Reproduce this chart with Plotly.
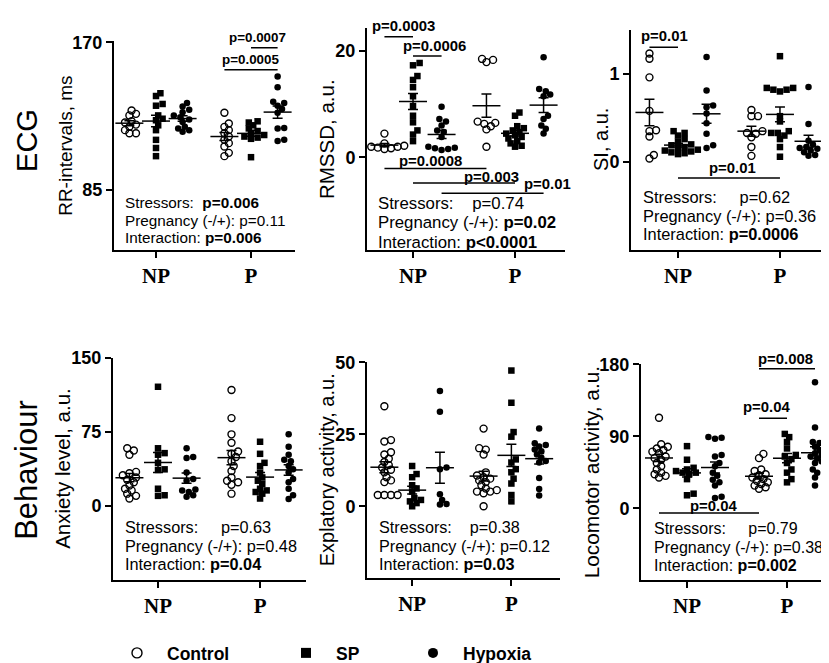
import numpy as np
import plotly.graph_objects as go

# ── data (order: NP Control, NP SP, NP Hypoxia, P Control, P SP, P Hypoxia) ──
STATES = ["NP", "P"]
GROUPS = ["Control", "SP", "Hypoxia"]

rr_np_ctrl = [130.6, 128.7, 127.8, 124.4, 123.7, 122.5, 121.2, 119.3, 117.5, 117.5]
rr_np_sp = [140.6, 139.0, 134.4, 133.4, 127.8, 125.9, 125.0, 122.1, 119.3, 113.7, 109.0, 104.3]
rr_np_hyp = [134.9, 133.0, 131.1, 129.6, 127.8, 126.8, 125.5, 124.0, 121.2, 120.3, 119.3, 118.4]
rr_p_ctrl = [129.3, 123.1, 121.2, 119.3, 117.5, 115.6, 113.7, 111.8, 109.9, 106.2, 104.3]
rr_p_sp = [124.4, 123.7, 122.1, 120.3, 118.8, 117.5, 116.5, 115.6, 115.0, 114.3, 103.7]
rr_p_hyp = [150.3, 144.1, 135.7, 134.9, 133.4, 131.5, 129.3, 120.6, 120.3, 113.7, 113.1]

rmssd_np_ctrl = [4.46, 2.63, 2.32, 2.19, 2.01, 2.01, 1.83, 1.72, 1.59]
rmssd_np_sp = [17.7, 17.26, 15.25, 14.52, 13.16, 11.46, 9.63, 7.81, 6.58, 5.06, 4.28, 3.05]
rmssd_np_hyp = [9.51, 7.2, 6.71, 5.98, 5.06, 4.75, 3.84, 2.01, 1.83, 1.72, 1.59, 1.41]
rmssd_p_ctrl = [18.46, 18.28, 17.86, 6.71, 6.47, 6.29, 5.85, 5.25, 2.01]
rmssd_p_sp = [8.41, 7.81, 5.85, 5.48, 5.06, 4.75, 4.46, 4.15, 3.84, 3.55, 3.05, 2.63, 2.19, 2.01]
rmssd_p_hyp = [18.78, 12.8, 12.38, 11.77, 11.46, 7.81, 7.2, 5.98, 5.37, 4.46]

si_np_ctrl = [1.23, 1.17, 0.96, 0.58, 0.36, 0.35, 0.29, 0.08, 0.04]
si_np_sp = [0.35, 0.33, 0.30, 0.26, 0.23, 0.20, 0.19, 0.17, 0.16, 0.14, 0.13, 0.12, 0.11, 0.10, 0.09]
si_np_hyp = [1.19, 0.81, 0.64, 0.62, 0.55, 0.44, 0.32, 0.19, 0.16]
si_p_ctrl = [0.59, 0.52, 0.52, 0.35, 0.33, 0.32, 0.28, 0.17, 0.07]
si_p_sp = [1.20, 0.84, 0.84, 0.82, 0.82, 0.80, 0.52, 0.46, 0.35, 0.33, 0.33, 0.30, 0.26, 0.17, 0.06]
si_p_hyp = [0.85, 0.43, 0.24, 0.20, 0.17, 0.16, 0.15, 0.13, 0.11, 0.08, 0.07]

anx_np_ctrl = [58.3, 56.0, 51.8, 34.4, 33.1, 31.1, 28.8, 26.5, 23.9, 20.6, 17.4, 15.7, 12.4, 10.2, 7.5]
anx_np_sp = [120.5, 58.3, 53.4, 51.8, 43.6, 37.0, 36.4, 17.4, 10.8, 10.2]
anx_np_hyp = [58.3, 49.5, 48.5, 33.7, 27.2, 25.5, 16.7, 15.7, 14.1, 10.8, 9.2]
anx_p_ctrl = [117.3, 88.8, 72.4, 63.9, 55.0, 52.7, 49.5, 45.2, 40.3, 35.4, 28.8, 25.5, 23.9, 21.3, 12.4]
anx_p_sp = [64.9, 52.7, 43.6, 40.3, 33.7, 28.8, 25.5, 22.3, 17.4, 15.7, 14.1, 12.4, 7.5]
anx_p_hyp = [72.4, 59.9, 51.8, 46.8, 45.2, 40.3, 37.0, 33.7, 27.2, 23.9, 17.4, 10.8, 6.9]

exp_np_ctrl = [34.8, 23.0, 22.5, 18.8, 18.0, 16.5, 15.4, 14.3, 13.5, 12.7, 11.8, 10.1, 9.0, 8.4, 3.9, 3.9, 3.9, 3.9]
exp_np_sp = [14.0, 11.2, 10.1, 7.3, 6.2, 5.1, 2.8, 2.2, 1.7, 1.1, 0.0]
exp_np_hyp = [40.1, 32.9, 13.5, 12.9, 4.2, 2.2, 0.8, 0.6]
exp_p_ctrl = [27.0, 20.2, 19.7, 18.0, 11.8, 10.7, 10.1, 9.6, 9.0, 8.4, 7.3, 6.2, 5.6, 5.1, 5.1, 4.5, 0.0]
exp_p_sp = [47.2, 36.0, 25.8, 24.2, 16.3, 15.2, 12.9, 11.8, 9.6, 7.9, 3.9, 1.7]
exp_p_hyp = [27.0, 21.9, 21.3, 20.8, 19.7, 19.1, 18.0, 16.9, 15.7, 15.2, 9.8, 6.0, 3.7]

loc_np_ctrl = [113.3, 80.1, 76.9, 74.8, 72.8, 70.8, 68.8, 64.7, 62.7, 60.7, 56.6, 52.6, 48.5, 44.5, 42.5, 40.5, 38.4]
loc_np_sp = [77.7, 60.7, 50.6, 48.5, 46.5, 44.5, 44.5, 42.5, 36.4, 18.2, 16.2]
loc_np_hyp = [89.0, 88.2, 87.0, 66.7, 64.7, 56.6, 52.6, 44.5, 40.5, 35.6, 32.4, 28.3, 14.2, 12.9]
loc_p_ctrl = [68.0, 62.7, 48.5, 46.5, 42.5, 41.3, 38.4, 36.4, 34.4, 32.4, 30.3, 28.3, 26.3, 24.3]
loc_p_sp = [93.0, 89.0, 82.9, 74.8, 66.7, 64.7, 61.5, 56.6, 48.5, 44.5, 36.4, 32.4]
loc_p_hyp = [157.8, 101.1, 82.9, 81.7, 76.9, 72.8, 68.8, 66.7, 64.7, 62.7, 58.7, 56.6, 48.5, 44.5, 38.4, 28.3]

# ── layout constants ─────────────────────────────────────────
W, H = 829, 663
FONT = "Arial, 'Liberation Sans', sans-serif"
SERIF = "'Times New Roman', 'Liberation Serif', serif"
NB = "\u00a0"
STATE_X = [1, 2]
GROUP_DX = [-0.28, 0.0, 0.28]
MARKERS = [
    dict(symbol="circle-open", size=7, color="black", line=dict(width=1.4, color="black")),
    dict(symbol="square", size=6.5, color="black"),
    dict(symbol="circle", size=6.5, color="black"),
]


def pos(k):
    return STATE_X[k // 3] + GROUP_DX[k % 3]


def swarm(vals, center, xpx, ypx, d=5.2, step=2.2):
    # simple beeswarm in pixel space
    placed, xs = [], np.zeros(len(vals))
    for i in np.argsort(vals):
        yp = vals[i] * ypx
        k = 0
        while True:
            off = ((k + 1) // 2) * step * (1 if k % 2 else -1)
            if all((off - ox) ** 2 + (yp - oy) ** 2 >= d * d for ox, oy in placed):
                break
            k += 1
        placed.append((off, yp))
        xs[i] = center + off / xpx
    return xs


# box = plot area in px (left, right, top, bottom); st = stats text x and line centres;
# fs = font sizes (stats, p-value bars, axis title)
panels = [
    dict(data=[rr_np_ctrl, rr_np_sp, rr_np_hyp, rr_p_ctrl, rr_p_sp, rr_p_hyp],
         box=(106, 287, 24, 238), xr=(0.558, 2.463), yr=(50, 170.5), ticks=[85, 170],
         title="RR-intervals, ms", title_x=58, st=(115, [189, 207, 224.5]), fs=(15.3, 13.4, 19),
         stats=["Stressors:" + NB * 2 + "<b>p=0.006</b>", "Pregnancy (-/+): p=0.11", "Interaction: <b>p=0.006</b>"],
         br=[(3, 5, 154.1, "p=0.0005", 0, 10), (4, 5, 166.8, "p=0.0007", -7, 10)]),
    dict(data=[rmssd_np_ctrl, rmssd_np_sp, rmssd_np_hyp, rmssd_p_ctrl, rmssd_p_sp, rmssd_p_hyp],
         box=(359, 557, 10, 238), xr=(0.549, 2.49), yr=(-17.4, 24.3), ticks=[0, 20],
         title="RMSSD, a.u.", title_x=318, st=(368, [190, 210, 230]), fs=(16.8, 14.9, 20.5),
         stats=["Stressors:" + NB * 4 + "p=0.74", "Pregnancy (-/+): <b>p=0.02</b>", "Interaction: <b>p&lt;0.0001</b>"],
         br=[(0, 1, 22.6, "p=0.0003", 5, 11), (1, 2, 19.0, "p=0.0006", 7, 10), (0, 3, -2.1, "p=0.0008", -5, 8),
             (1, 4, -4.8, "p=0.003", 27, 6), (2, 5, -6.7, "p=0.01", 55, 9)]),
    dict(data=[si_np_ctrl, si_np_sp, si_np_hyp, si_p_ctrl, si_p_sp, si_p_hyp],
         box=(623, 826, 12, 238), xr=(0.539, 2.53), yr=(-1.0, 1.5), ticks=[0, 1],
         title="SI, a.u.", title_x=593, st=(633, [183.3, 202.7, 221.7]), fs=(16.4, 14.9, 20),
         stats=["Stressors:" + NB * 5 + "p=0.62", "Pregnancy (-/+): p=0.36", "Interaction: <b>p=0.0006</b>"],
         br=[(0, 1, 1.30, "p=0.01", 1, 11), (1, 4, -0.18, "p=0.01", 4, 10)]),
    dict(data=[anx_np_ctrl, anx_np_sp, anx_np_hyp, anx_p_ctrl, anx_p_sp, anx_p_hyp],
         box=(105, 298, 348, 576), xr=(0.559, 2.45), yr=(-75, 150), ticks=[0, 75, 150],
         title="Anxiety level, a.u.", title_x=55, st=(115, [521.7, 540.7, 560]), fs=(16.3, 14.9, 20.5),
         stats=["Stressors:" + NB * 5 + "p=0.63", "Pregnancy (-/+): p=0.48", "Interaction: <b>p=0.04</b>"],
         br=[]),
    dict(data=[exp_np_ctrl, exp_np_sp, exp_np_hyp, exp_p_ctrl, exp_p_sp, exp_p_hyp],
         box=(359, 552, 353, 574), xr=(0.545, 2.49), yr=(-25, 50), ticks=[0, 25, 50],
         title="Explatory activity, a.u.", title_x=319, st=(369, [521.7, 540.7, 559.3]), fs=(16.2, 14.9, 20),
         stats=["Stressors:" + NB * 4 + "p=0.38", "Pregnancy (-/+): p=0.12", "Interaction: <b>p=0.03</b>"],
         br=[]),
    dict(data=[loc_np_ctrl, loc_np_sp, loc_np_hyp, loc_p_ctrl, loc_p_sp, loc_p_hyp],
         box=(633, 826, 355, 576), xr=(0.54, 2.47), yr=(-90, 180), ticks=[0, 90, 180],
         title="Locomotor activity, a.u.", title_x=583, st=(644, [523.3, 542.7, 560.7]), fs=(16.0, 14.9, 20.8),
         stats=["Stressors:" + NB * 5 + "p=0.79", "Pregnancy (-/+): p=0.38", "Interaction: <b>p=0.002</b>"],
         br=[(3, 5, 174.7, "p=0.008", -2, 10), (3, 4, 112.5, "p=0.04", -7, 11), (0, 3, -6.1, "p=0.04", 4, 7)]),
]

fig = go.Figure()
axes, shapes, annotations = {}, [], []

for n, p in enumerate(panels, start=1):
    x0, x1, y0, y1 = p["box"]
    fs_stats, fs_bar, fs_title = p["fs"]
    sfx = "" if n == 1 else str(n)
    xa, ya = "x" + sfx, "y" + sfx
    xpx = (x1 - x0) / (p["xr"][1] - p["xr"][0])
    ypx = (y1 - y0) / (p["yr"][1] - p["yr"][0])

    for k, vals in enumerate(p["data"]):
        vals = np.asarray(vals, dtype=float)
        c = pos(k)
        fig.add_trace(go.Scatter(
            x=swarm(vals, c, xpx, ypx), y=vals, mode="markers", marker=MARKERS[k % 3],
            xaxis=xa, yaxis=ya, showlegend=False, cliponaxis=False,
        ))
        sem = vals.std(ddof=1) / np.sqrt(len(vals))
        fig.add_trace(go.Scatter(
            x=[c], y=[vals.mean()], mode="markers",
            marker=dict(symbol="line-ew", size=20, line=dict(width=1.5, color="black")),
            error_y=dict(type="data", array=[sem], width=5, thickness=1.5, color="black"),
            xaxis=xa, yaxis=ya, showlegend=False, cliponaxis=False,
        ))

    axes["xaxis" + sfx] = dict(
        domain=[x0 / W, x1 / W], range=list(p["xr"]), anchor=ya,
        tickvals=STATE_X, ticktext=STATES,
        tickfont=dict(family=SERIF, size=21, color="black", weight="bold"),
    )
    axes["yaxis" + sfx] = dict(
        domain=[1 - y1 / H, 1 - y0 / H], range=list(p["yr"]), anchor=xa,
        tickvals=p["ticks"], tickfont=dict(family=FONT, size=18, color="black", weight="bold"),
    )

    # significance bars
    for g0, g1, yv, label, dx, dy in p["br"]:
        shapes.append(dict(type="line", xref=xa, yref=ya, x0=pos(g0), x1=pos(g1), y0=yv, y1=yv,
                           line=dict(color="black", width=1.5)))
        annotations.append(dict(xref=xa, yref=ya, x=(pos(g0) + pos(g1)) / 2, y=yv,
                                text=f"<b>{label}</b>", showarrow=False, xshift=dx, yshift=dy,
                                xanchor="center", yanchor="middle",
                                font=dict(family=FONT, size=fs_bar, color="black")))

    # two-way ANOVA summary, one annotation per line
    sx, sys_ = p["st"]
    for line, ly in zip(p["stats"], sys_):
        annotations.append(dict(xref="paper", yref="paper", x=sx / W, y=1 - ly / H,
                                xanchor="left", yanchor="middle", showarrow=False, text=line,
                                font=dict(family=FONT, size=fs_stats, color="black")))
    # y-axis title
    annotations.append(dict(xref="paper", yref="paper", x=p["title_x"] / W, y=1 - (y0 + y1) / 2 / H,
                            xanchor="center", yanchor="middle", textangle=-90, showarrow=False,
                            text=p["title"], font=dict(family=FONT, size=fs_title, color="black")))

for label, (px, py, size) in {"ECG": (19, 126, 29), "Behaviour": (19, 463, 31)}.items():
    annotations.append(dict(xref="paper", yref="paper", x=px / W, y=1 - py / H, textangle=-90,
                            xanchor="center", yanchor="middle", showarrow=False, text=label,
                            font=dict(family=FONT, size=size, color="black")))

# legend: one small legend per group so each can sit where it does in the figure
LEGEND_SYMBOL_X = [135, 304, 431]
legends = {}
for k, name in enumerate(GROUPS):
    key = "legend" if k == 0 else f"legend{k + 1}"
    fig.add_trace(go.Scatter(x=[None], y=[None], mode="markers", name=f"<b>{name}</b>",
                             marker=dict(MARKERS[k], size=10), legend=key))
    legends[key] = dict(x=(LEGEND_SYMBOL_X[k] - 36) / W, y=1 - 651 / H, xanchor="left", yanchor="middle",
                        itemwidth=50, font=dict(family=FONT, size=17.5, color="black"),
                        bgcolor="rgba(0,0,0,0)")

axis_style = dict(showline=True, linecolor="black", linewidth=2, ticks="outside", ticklen=6,
                  tickwidth=2, tickcolor="black", showgrid=False, zeroline=False)
for key in axes:
    axes[key].update(axis_style)

fig.update_layout(
    width=W, height=H, margin=dict(l=0, r=0, t=0, b=0),
    paper_bgcolor="white", plot_bgcolor="white",
    font=dict(family=FONT, color="black"),
    shapes=shapes, annotations=annotations,
    showlegend=True,
    **legends,
    **axes,
)

fig.write_html("out.html")
